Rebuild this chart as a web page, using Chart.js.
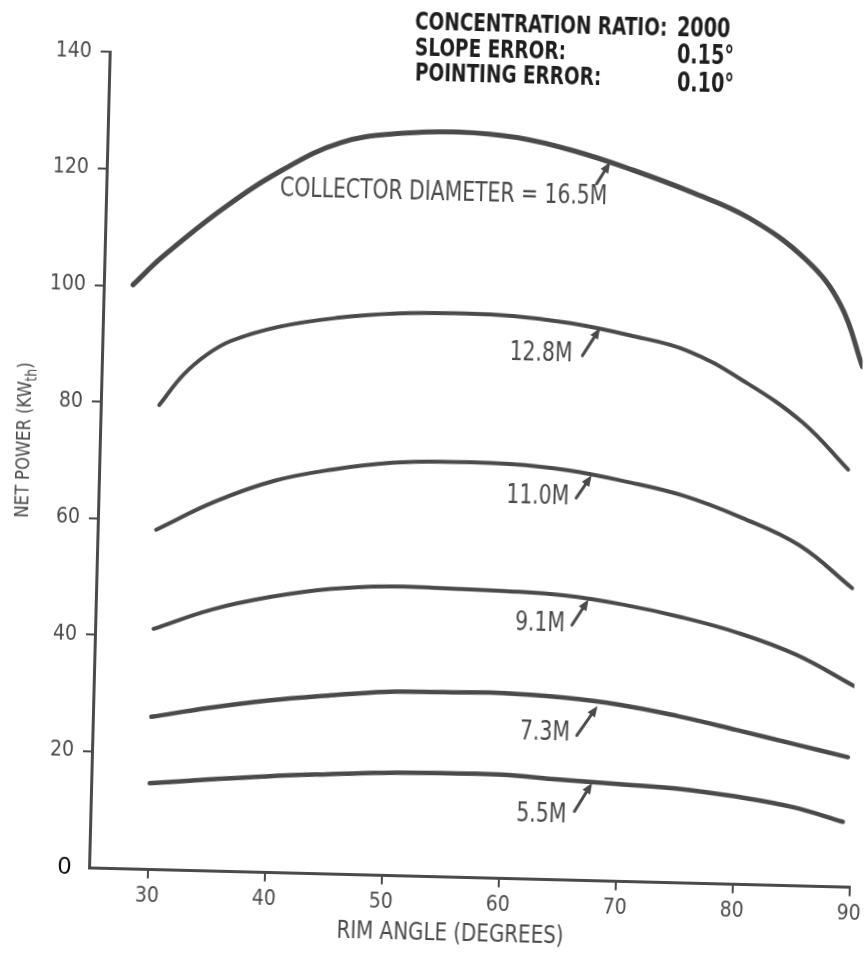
<!DOCTYPE html>
<html>
<head>
<meta charset="utf-8">
<script src="https://cdn.jsdelivr.net/npm/chart.js@4/dist/chart.umd.min.js"></script>
<style>
  html, body { margin: 0; padding: 0; background: #fff; overflow: hidden; }
  #wrap { width: 864px; height: 958px; position: relative; overflow: hidden; }
  /* the plotted sheet sits slightly skewed on the page */
  #chart { position: absolute; left: 0; top: 0; transform: rotate(1.45deg); transform-origin: 432px 479px; }
</style>
</head>
<body>
<div id="wrap"><canvas id="chart" width="900" height="1000"></canvas></div>
<script>
// Net thermal power (kW) versus rim angle (degrees), one curve per collector diameter
const angles165 = [27.5, 30, 35, 40, 45, 50, 55, 60, 65, 70, 75, 80, 85, 88, 90];
const power165  = [100.2, 105.2, 113.6, 120.5, 125.5, 127.3, 127.8, 127.1, 125.0, 122.0, 118.5, 114.3, 107.3, 99.8, 89.3];

const angles128 = [30, 32, 34, 36, 40, 45, 50, 55, 60, 65, 70, 75, 80, 85, 89];
const power128  = [79.7, 85.0, 88.6, 91.0, 93.6, 95.4, 96.4, 96.7, 96.5, 95.5, 93.7, 91.3, 86.2, 79.5, 71.6];

const angles110 = [30, 35, 40, 45, 50, 55, 60, 65, 70, 75, 80, 85, 89.6];
const power110  = [58.3, 63.4, 67.2, 69.4, 70.8, 71.2, 71.1, 70.3, 68.6, 66.4, 62.9, 58.4, 51.3];

const angles91 = [30, 35, 40, 45, 50, 55, 60, 65, 70, 75, 80, 85, 90];
const power91  = [41.3, 44.9, 47.3, 48.9, 49.6, 49.5, 49.3, 48.8, 47.5, 45.6, 43.1, 39.6, 34.5];

const angles73 = [30, 35, 40, 45, 50, 55, 60, 65, 70, 75, 80, 85, 89.6];
const power73  = [26.2, 28.0, 29.5, 30.6, 31.5, 31.7, 31.8, 31.3, 30.3, 28.6, 26.5, 24.3, 22.3];

const angles55 = [30, 35, 40, 45, 50, 55, 60, 65, 70, 75, 80, 85, 89.3];
const power55  = [14.8, 15.7, 16.5, 17.1, 17.6, 17.8, 17.8, 17.2, 16.7, 16.2, 15.1, 13.5, 11.2];

const diameters = ['16.5M', '12.8M', '11.0M', '9.1M', '7.3M', '5.5M'];

const xTicks = [30, 40, 50, 60, 70, 80, 90];
const yTicks = [0, 20, 40, 60, 80, 100, 120, 140];

const NARROW = "'DejaVu Sans Condensed', 'DejaVu Sans', sans-serif";
const INK = '#4a4a4a';

const pairs = (xs, ys) => xs.map((v, i) => ({ x: v, y: ys[i] }));
const series = [
  [angles165, power165, 5],
  [angles128, power128, 4],
  [angles110, power110, 4],
  [angles91, power91, 4],
  [angles73, power73, 4.5],
  [angles55, power55, 4.5]
];

// callouts: arrow tip on a curve (data units), arrow tail and text offsets in px
const callouts = [
  { text: 'COLLECTOR DIAMETER = ' + diameters[0], at: [68.0, 123.3], tail: [-13, 22], label: [-2, 36] },
  { text: diameters[1], at: [67.5, 94.8], tail: [-17, 28], label: [-27, 27] },
  { text: diameters[2], at: [67.1, 69.5], tail: [-15, 23], label: [-22, 23] },
  { text: diameters[3], at: [67.1, 48.2], tail: [-16, 26], label: [-23, 26] },
  { text: diameters[4], at: [68.1, 30.0], tail: [-20, 30], label: [-27, 29] },
  { text: diameters[5], at: [67.8, 16.8], tail: [-17, 29], label: [-25, 34] }
];

// condensed lettering: squeeze text horizontally around its anchor
function letter(ctx, str, x, y, font, align, squeeze) {
  ctx.save();
  ctx.font = font;
  ctx.textAlign = align;
  ctx.textBaseline = 'middle';
  ctx.translate(x, y);
  ctx.scale(squeeze, 1);
  ctx.fillText(str, 0, 0);
  ctx.restore();
}

function drawArrow(ctx, x0, y0, x1, y1) {
  const a = Math.atan2(y1 - y0, x1 - x0);
  const len = 11, half = 4.5;
  ctx.beginPath();
  ctx.moveTo(x0, y0);
  ctx.lineTo(x1 - Math.cos(a) * len * 0.8, y1 - Math.sin(a) * len * 0.8);
  ctx.lineWidth = 3;
  ctx.lineCap = 'round';
  ctx.strokeStyle = INK;
  ctx.stroke();
  ctx.beginPath();
  ctx.moveTo(x1, y1);
  ctx.lineTo(x1 - Math.cos(a) * len - Math.sin(a) * half, y1 - Math.sin(a) * len + Math.cos(a) * half);
  ctx.lineTo(x1 - Math.cos(a) * len + Math.sin(a) * half, y1 - Math.sin(a) * len - Math.cos(a) * half);
  ctx.closePath();
  ctx.fillStyle = INK;
  ctx.fill();
}

const annotate = {
  id: 'annotate',
  afterDraw(chart) {
    const { ctx, scales: { x, y } } = chart;
    ctx.save();

    // curve callouts
    callouts.forEach(c => {
      const hx = x.getPixelForValue(c.at[0]);
      const hy = y.getPixelForValue(c.at[1]);
      drawArrow(ctx, hx + c.tail[0], hy + c.tail[1], hx, hy);
      ctx.fillStyle = INK;
      letter(ctx, c.text, hx + c.label[0], hy + c.label[1], '26px ' + NARROW, 'right', 0.87);
    });

    // design parameters block
    ctx.fillStyle = '#1e1e1e';
    const lab = 'bold 24px ' + NARROW, val = 'bold 27px ' + NARROW;
    letter(ctx, 'CONCENTRATION RATIO:', 403.5, 23.6, lab, 'left', 0.855);
    letter(ctx, 'SLOPE ERROR:', 404.1, 49.6, lab, 'left', 0.855);
    letter(ctx, 'POINTING ERROR:', 404.7, 74.6, lab, 'left', 0.855);
    letter(ctx, '2000', 665.5, 22.9, val, 'left', 0.79);
    letter(ctx, '0.15°', 666.2, 49.9, val, 'left', 0.79);
    letter(ctx, '0.10°', 666.9, 77.9, val, 'left', 0.79);

    // x axis title
    ctx.fillStyle = INK;
    letter(ctx, 'RIM ANGLE (DEGREES)', 461.5, 933.4, '24px ' + NARROW, 'center', 0.92);

    // y axis title with subscript
    ctx.translate(24.1, 450.3);
    ctx.rotate(-Math.PI / 2);
    ctx.scale(0.91, 1);
    const mainFont = '20px ' + NARROW, subFont = '15px ' + NARROW;
    ctx.textBaseline = 'middle';
    ctx.textAlign = 'left';
    ctx.font = mainFont;
    const w1 = ctx.measureText('NET POWER (KW').width;
    const w3 = ctx.measureText(')').width;
    ctx.font = subFont;
    const w2 = ctx.measureText('th').width;
    const sx = -(w1 + w2 + w3) / 2;
    ctx.font = mainFont;
    ctx.fillText('NET POWER (KW', sx, 0);
    ctx.font = subFont;
    ctx.fillText('th', sx + w1, 6);
    ctx.font = mainFont;
    ctx.fillText(')', sx + w1 + w2, 0);

    ctx.restore();
  }
};

new Chart(document.getElementById('chart'), {
  type: 'line',
  data: {
    datasets: series.map(([xs, ys, w], i) => ({
      label: diameters[i],
      data: pairs(xs, ys),
      borderColor: INK,
      borderWidth: w,
      borderCapStyle: 'round',
      pointRadius: 0,
      fill: false,
      tension: 0.4
    }))
  },
  options: {
    responsive: false,
    devicePixelRatio: 1,
    animation: false,
    events: [],
    layout: { padding: { top: 60.3, right: 40.5, left: 0, bottom: 0 } },
    plugins: { legend: { display: false }, tooltip: { enabled: false } },
    scales: {
      x: {
        type: 'linear',
        min: 25,
        max: 90,
        afterBuildTicks: s => { s.ticks = xTicks.map(v => ({ value: v })); },
        afterFit: s => { s.height = 123.4; s.paddingLeft = 0; s.paddingRight = 0; },
        ticks: { font: { family: NARROW, size: 21 }, color: INK, padding: 5, maxRotation: 0, autoSkip: false },
        grid: { drawOnChartArea: false, drawTicks: true, tickLength: 9, lineWidth: 2, color: INK },
        border: { display: true, width: 3, color: INK }
      },
      y: {
        type: 'linear',
        min: 0,
        max: 140,
        afterBuildTicks: s => { s.ticks = yTicks.map(v => ({ value: v })); },
        afterFit: s => { s.width = 99; s.paddingTop = 0; s.paddingBottom = 0; },
        ticks: {
          font: c => (c.tick && c.tick.value === 0)
            ? { family: "'Liberation Sans', sans-serif", size: 24 }
            : { family: NARROW, size: 21 },
          color: c => (c.tick && c.tick.value === 0) ? '#000' : INK,
          padding: 9,
          autoSkip: false
        },
        grid: {
          drawOnChartArea: false, drawTicks: true, tickLength: 9, lineWidth: 2,
          color: c => (c.tick && c.tick.value === 0) ? 'rgba(0,0,0,0)' : INK
        },
        border: { display: true, width: 3, color: INK }
      }
    }
  },
  plugins: [annotate]
});
</script>
</body>
</html>
